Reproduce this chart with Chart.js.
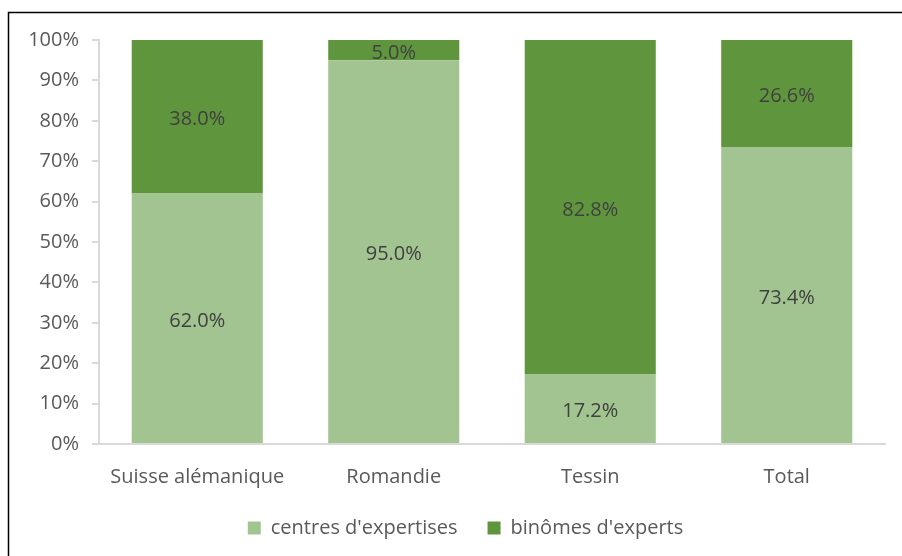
<!DOCTYPE html>
<html>
<head>
<meta charset="utf-8">
<script src="https://cdn.jsdelivr.net/npm/chart.js@4"></script>
<style>
  html, body { margin: 0; padding: 0; background: #fff; }
  #wrap { width: 902px; height: 556px; }
</style>
</head>
<body>
<div id="wrap"><canvas id="chart" width="902" height="556"></canvas></div>
<script>
const categories = ['Suisse alémanique', 'Romandie', 'Tessin', 'Total'];
const centresValues = [62.0, 95.0, 17.2, 73.4];
const binomesValues = [38.0, 5.0, 82.8, 26.6];
const seriesLabels = ["centres d'expertises", "binômes d'experts"];

const FONT = "'Open Sans', sans-serif";
const FSIZE = 20;
const LIGHT = '#A2C490';
const DARK = '#5F963D';

// Frame lines (top & left) like the cropped Excel chart border
const framePlugin = {
  id: 'frame',
  afterDraw(chart) {
    const ctx = chart.ctx;
    ctx.save();
    ctx.strokeStyle = '#000';
    ctx.lineWidth = 1.5;
    ctx.beginPath();
    ctx.moveTo(902, 12.5);
    ctx.lineTo(8.5, 12.5);
    ctx.lineTo(8.5, 556);
    ctx.stroke();
    ctx.restore();
  }
};

// Excel centres the legend on the whole chart box, not on the axes area
const legendShift = {
  id: 'legendShift',
  afterLayout(chart) {
    if (chart.legend) {
      chart.legend.left += 23;
      chart.legend.right += 23;
    }
  }
};

// Value labels centered in each bar segment
const segmentLabels = {
  id: 'segmentLabels',
  afterDatasetsDraw(chart) {
    const ctx = chart.ctx;
    ctx.save();
    ctx.font = FSIZE + 'px ' + FONT;
    ctx.fillStyle = '#404040';
    ctx.textAlign = 'center';
    ctx.textBaseline = 'middle';
    chart.data.datasets.forEach((ds, i) => {
      chart.getDatasetMeta(i).data.forEach((bar, j) => {
        const { x, y, base } = bar.getProps(['x', 'y', 'base'], true);
        ctx.fillText(ds.data[j].toFixed(1) + '%', x, (y + base) / 2 + 3);
      });
    });
    ctx.restore();
  }
};

new Chart(document.getElementById('chart'), {
  type: 'bar',
  data: {
    labels: categories,
    datasets: [
      { label: seriesLabels[0], data: centresValues, backgroundColor: LIGHT, borderWidth: 0 },
      { label: seriesLabels[1], data: binomesValues, backgroundColor: DARK, borderWidth: 0 }
    ]
  },
  options: {
    responsive: false,
    animation: false,
    layout: { padding: { left: 0, top: 40, right: 17, bottom: 8 } },
    datasets: { bar: { categoryPercentage: 1, barPercentage: 0.667 } },
    plugins: {
      legend: {
        position: 'bottom',
        labels: {
          boxWidth: 13,
          boxHeight: 13,
          padding: 30,
          color: '#595959',
          font: { family: FONT, size: FSIZE }
        }
      },
      tooltip: { enabled: false }
    },
    scales: {
      x: {
        stacked: true,
        grid: { display: false },
        border: { color: '#D9D9D9', width: 2 },
        ticks: { color: '#595959', padding: 13, font: { family: FONT, size: FSIZE } },
        afterFit(scale) { scale.height = 44; }
      },
      y: {
        stacked: true,
        min: 0,
        max: 100,
        grid: { drawOnChartArea: false, tickLength: 7, color: '#D9D9D9', lineWidth: 2 },
        border: { color: '#D9D9D9', width: 2 },
        ticks: {
          stepSize: 10,
          color: '#595959',
          padding: 13,
          font: { family: FONT, size: FSIZE },
          callback: v => v + '%'
        },
        afterFit(scale) { scale.width = 99; }
      }
    }
  },
  plugins: [framePlugin, legendShift, segmentLabels]
});
</script>
</body>
</html>
